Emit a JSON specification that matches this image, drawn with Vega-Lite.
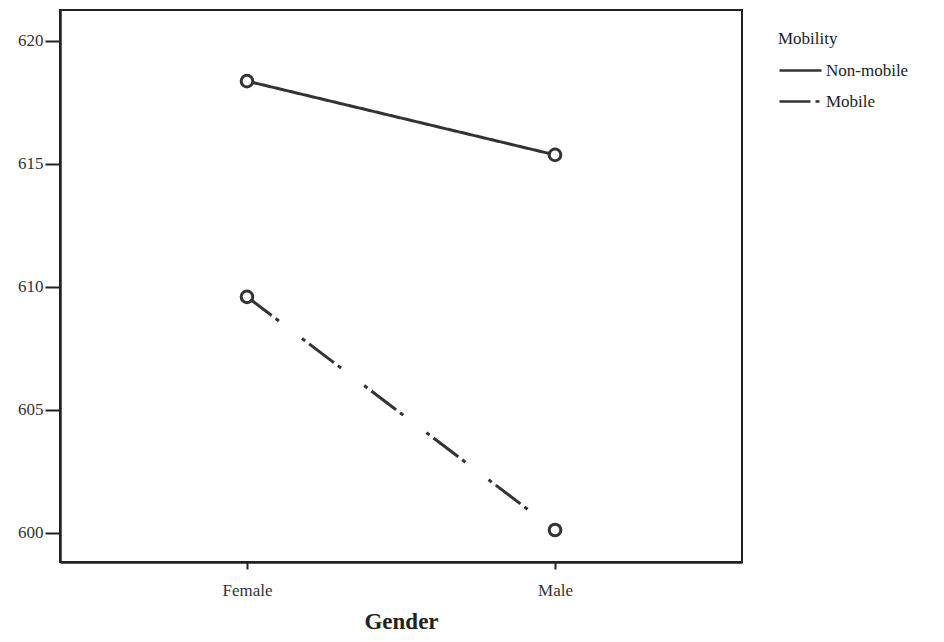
{
  "$schema": "https://vega.github.io/schema/vega-lite/v6.json",
  "width": 682,
  "height": 552,
  "autosize": "none",
  "padding": {"left": 60, "top": 10, "right": 202, "bottom": 80},
  "background": "white",
  "config": {
    "font": "Liberation Serif",
    "view": {"stroke": "#222", "strokeWidth": 2},
    "axis": {"grid": false, "labelFont": "Liberation Serif", "titleFont": "Liberation Serif", "labelColor": "#333", "titleColor": "#222", "domainColor": "#222", "tickColor": "#222"}
  },
  "data": {
    "values": [
      {"Gender": "Female", "Mobility": "Non-mobile", "score": 618.37},
      {"Gender": "Male", "Mobility": "Non-mobile", "score": 615.37},
      {"Gender": "Female", "Mobility": "Mobile", "score": 609.6},
      {"Gender": "Male", "Mobility": "Mobile", "score": 600.12}
    ]
  },
  "encoding": {
    "x": {
      "field": "Gender", "type": "nominal", "sort": ["Female", "Male"],
      "scale": {"type": "point", "padding": 0.607},
      "axis": {"title": "Gender", "labelAngle": 0, "labelFontSize": 17, "titleFontSize": 23, "titleFontWeight": "bold", "tickSize": 7, "tickWidth": 2, "domainWidth": 2.5, "labelPadding": 13, "titlePadding": 12}
    },
    "y": {
      "field": "score", "type": "quantitative",
      "scale": {"domain": [598.82, 621.26], "nice": false, "zero": false},
      "axis": {"title": null, "values": [600, 605, 610, 615, 620], "labelFontSize": 17, "tickSize": 15, "tickWidth": 2, "domainWidth": 2.5, "labelPadding": 2}
    }
  },
  "layer": [
    {
      "mark": {"type": "line", "color": "#333", "strokeWidth": 3},
      "encoding": {
        "strokeDash": {
          "field": "Mobility", "type": "nominal",
          "scale": {"domain": ["Non-mobile", "Mobile"], "range": [[1, 0], [31, 5, 4, 29, 4, 5]]},
          "legend": {
            "orient": "none", "legendX": 718, "legendY": 21,
            "title": "Mobility", "titleFont": "Liberation Serif", "titleFontSize": 17, "titleFontWeight": "normal", "titleColor": "#222", "titlePadding": 0, "titleAnchor": "start",
            "labelFont": "Liberation Serif", "labelFontSize": 17, "labelColor": "#222", "labelOffset": 3,
            "symbolType": "stroke", "symbolSize": 1764, "symbolStrokeWidth": 2.5, "symbolStrokeColor": "#333", "rowPadding": -4,
            "symbolOffset": 0, "padding": 0
          }
        }
      }
    },
    {
      "mark": {"type": "point", "shape": "circle", "filled": true, "fill": "white", "stroke": "#333", "strokeWidth": 3, "size": 135, "opacity": 1},
      "encoding": {"detail": {"field": "Mobility", "type": "nominal"}}
    }
  ]
}
